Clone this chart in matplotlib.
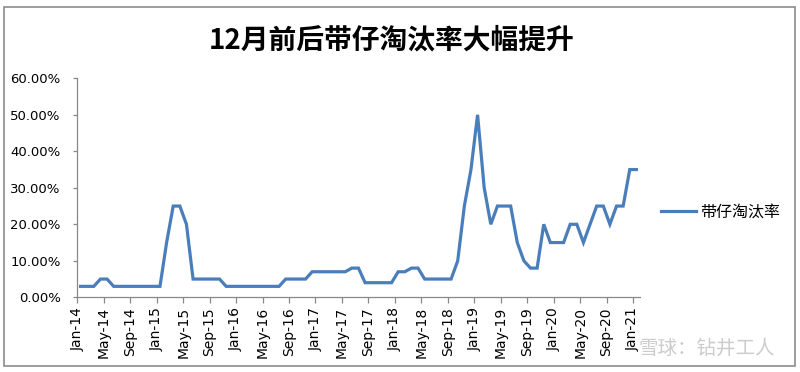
import matplotlib
matplotlib.use("Agg")
import matplotlib.pyplot as plt
from matplotlib.patches import Rectangle
from matplotlib.ticker import FuncFormatter

plt.rcParams['font.family'] = ['Noto Sans CJK SC', 'DejaVu Sans']

title = "12月前后带仔淘汰率大幅提升"
series_name = "带仔淘汰率"
months = ["Jan", "Feb", "Mar", "Apr", "May", "Jun",
          "Jul", "Aug", "Sep", "Oct", "Nov", "Dec"]
years = [14, 15, 16, 17, 18, 19, 20, 21]

# monthly rate in percent, Jan-14 .. Jan-21
rate_2014 = [3, 3, 3, 5, 5, 3, 3, 3, 3, 3, 3, 3]
rate_2015 = [3, 15, 25, 25, 20, 5, 5, 5, 5, 5, 3, 3]
rate_2016 = [3, 3, 3, 3, 3, 3, 3, 5, 5, 5, 5, 7]
rate_2017 = [7, 7, 7, 7, 7, 8, 8, 4, 4, 4, 4, 4]
rate_2018 = [7, 7, 8, 8, 5, 5, 5, 5, 5, 10, 25, 35]
rate_2019 = [50, 30, 20, 25, 25, 25, 15, 10, 8, 8, 20, 15]
rate_2020 = [15, 15, 20, 20, 15, 20, 25, 25, 20, 25, 25, 35]
rate_2021 = [35]

rate = rate_2014 + rate_2015 + rate_2016 + rate_2017 + rate_2018 + rate_2019 + rate_2020 + rate_2021
labels = [f"{m}-{y}" for y in years for m in months][:len(rate)]

fig = plt.figure(figsize=(8, 3.72), dpi=100)
ax = fig.add_axes([0.0966, 0.2008, 0.703, 0.5887])

# points sit in the middle of each month slot, ticks on slot edges
x = [i + 0.5 for i in range(len(rate))]
ax.plot(x, [v / 100 for v in rate], color="#4A7EBB", lw=2.3,
        solid_joinstyle="miter", label=series_name)

ax.set_xlim(0, len(rate))
ax.set_ylim(0, 0.6)
ax.set_yticks([i / 10 for i in range(7)])
ax.yaxis.set_major_formatter(FuncFormatter(lambda v, p: f"{v * 100:.2f}%"))
tick_pos = list(range(0, len(rate), 4))
ax.set_xticks(tick_pos)
ax.set_xticklabels([labels[i] for i in tick_pos], rotation=90, family="DejaVu Sans")
for t in ax.get_yticklabels():
    t.set_family("DejaVu Sans")

for s in ["top", "right"]:
    ax.spines[s].set_visible(False)
for s in ["left", "bottom"]:
    ax.spines[s].set_color("#888888")
    ax.spines[s].set_linewidth(0.9)
ax.tick_params(axis="both", color="#888888", length=4, width=0.9, labelsize=10)
ax.tick_params(axis="y", length=3, pad=9, labelsize=9.5)
ax.tick_params(axis="x", pad=3)

fig.text(0.49, 0.89, title, ha="center", va="center", fontsize=20, fontweight="bold")

ax.legend(loc="center left", bbox_to_anchor=(1.012, 0.39), frameon=False,
          fontsize=11.5, handlelength=2.2, handletextpad=0.25)

fig.text(0.969, 0.064, "雪球：钻井工人", ha="right", va="center", fontsize=14, color="#cccccc")

fig.patches.append(Rectangle((0.005, 0.016), 0.989, 0.966, transform=fig.transFigure,
                             fill=False, edgecolor="#8c8c8c", lw=1.2))

fig.savefig("out.png", dpi=100)
